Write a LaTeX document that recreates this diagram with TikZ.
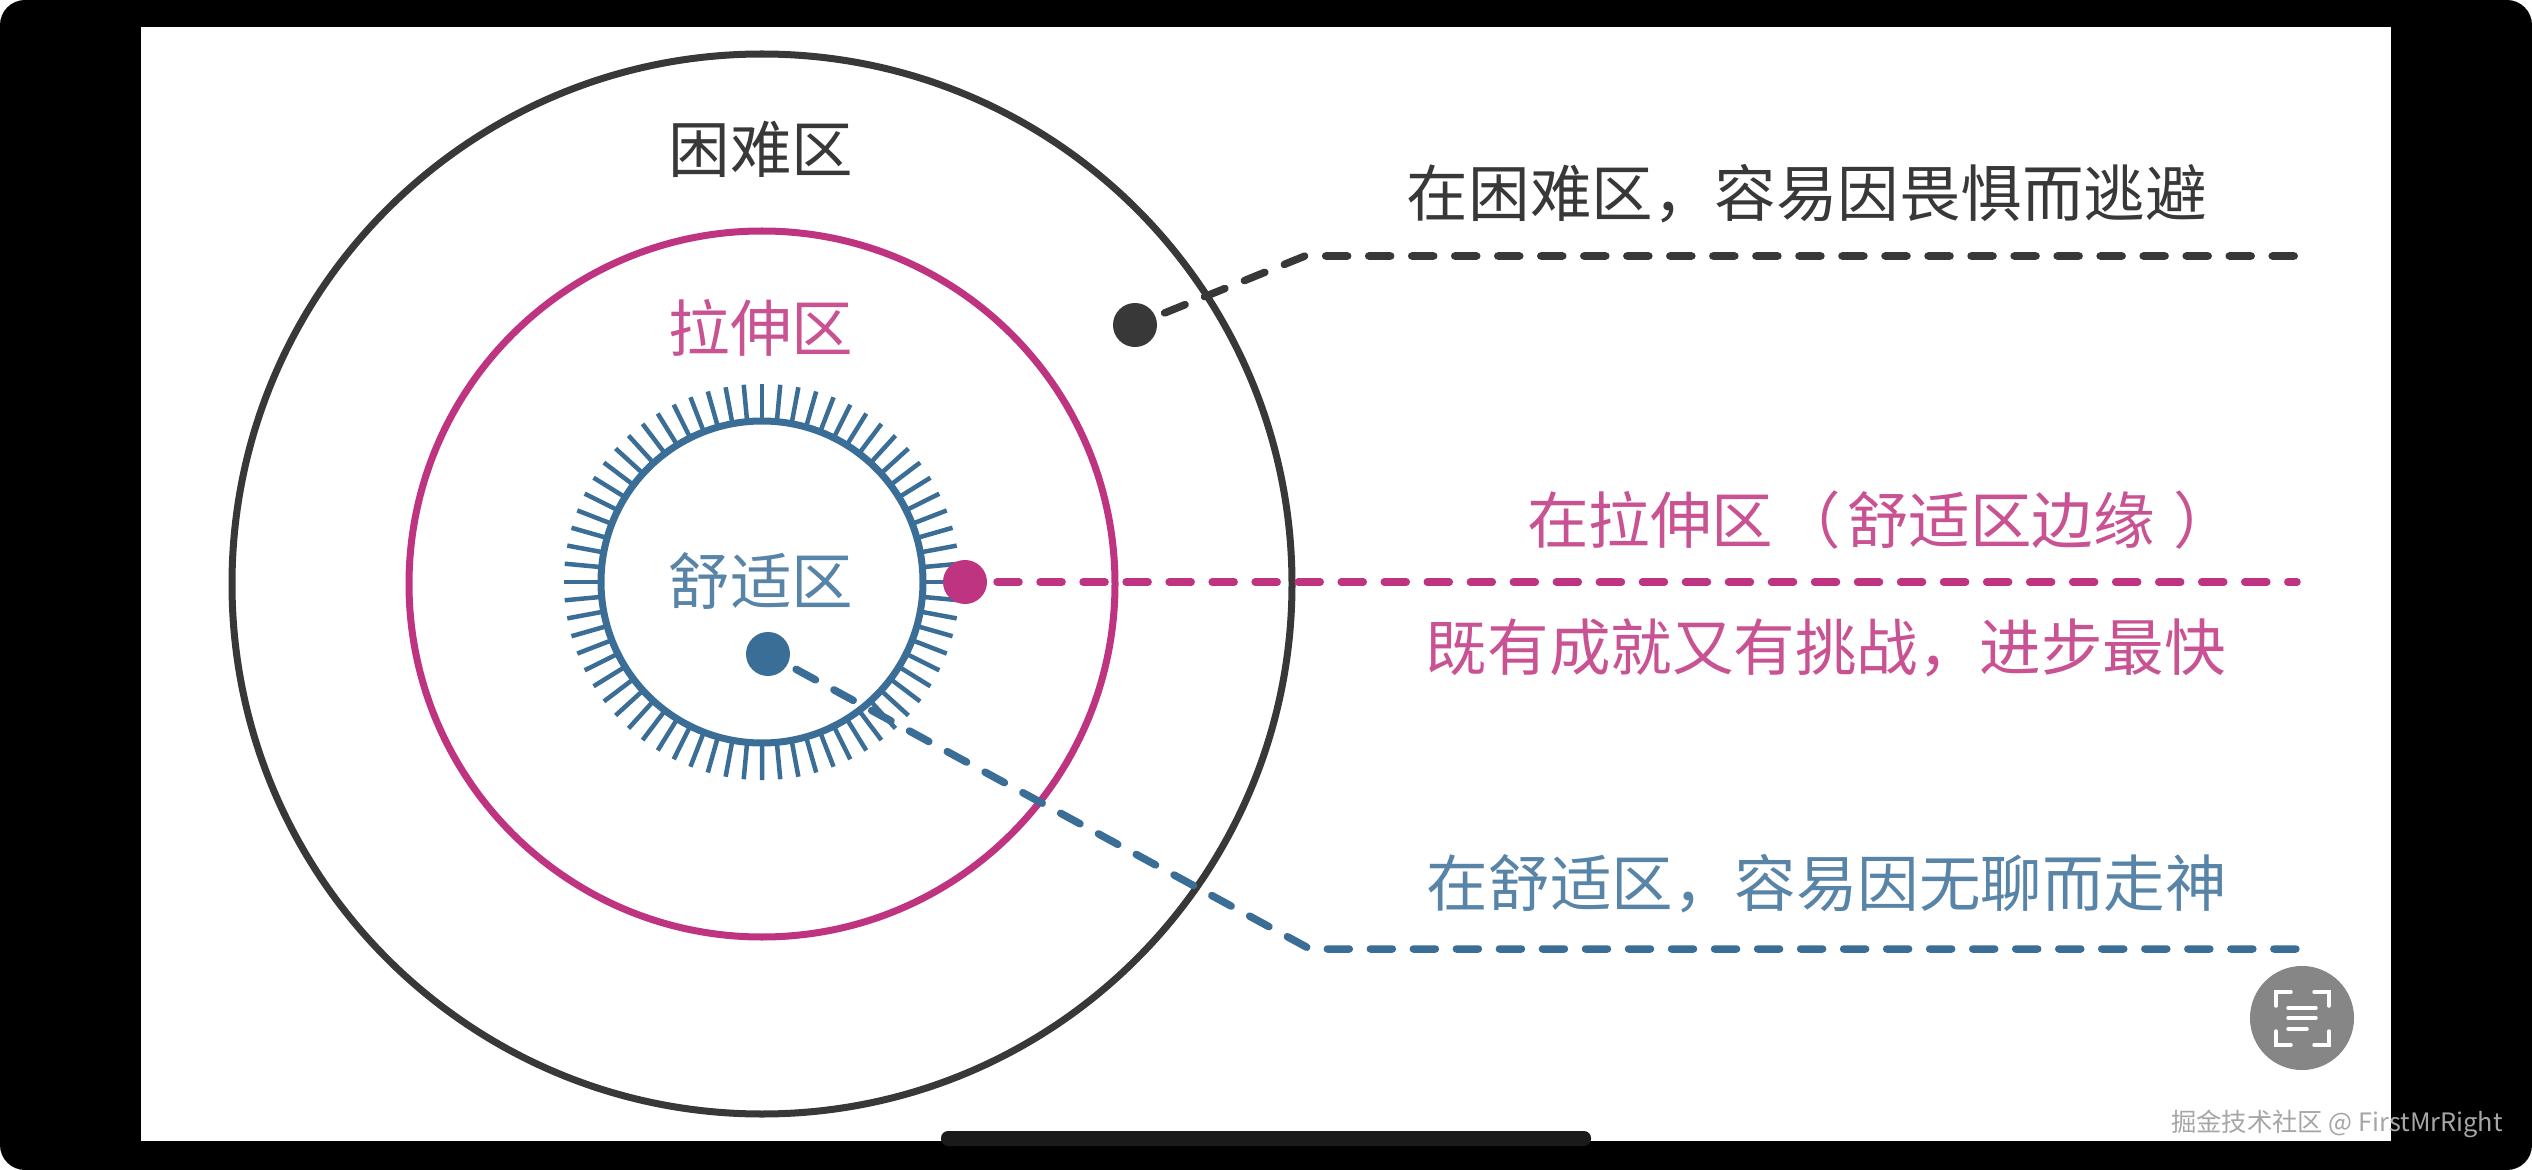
\documentclass[tikz,border=0pt]{standalone}
\usepackage{fontspec}
\setmainfont{Noto Sans CJK SC}
\definecolor{hardc}{HTML}{383838}
\definecolor{pinkc}{HTML}{BF3480}
\definecolor{bluec}{HTML}{3B6E97}
\definecolor{pillc}{HTML}{1A1A1A}
\definecolor{scanc}{HTML}{868686}
\begin{document}
\begin{tikzpicture}[x=0.01cm, y=-0.01cm]
\tikzset{
  zone/.style={line width=0.07cm},
  dot/.style={circle, minimum size=0.44cm, inner sep=0pt, outer sep=0.1cm},
  link/.style={line width=0.075cm, line cap=round, dash pattern=on 0.22cm off 0.21cm},
  zonetext/.style={font=\fontsize{17.5}{20}\selectfont, inner sep=0pt},
  scanline/.style={white, line width=0.035cm, line cap=round}
}
\useasboundingbox (0, 0) rectangle (2532, 1170);
\fill[white] (0, 0) rectangle (2532, 1170);
\fill[black, rounded corners=0.25cm] (0, 0) rectangle (2532, 1170);
\fill[white] (141, 27) rectangle (2391, 1141);
\draw[zone, hardc] (762, 584) circle (530);
\draw[zone, pinkc] (762, 584) circle (353);
\draw[zone, bluec] (762, 582) circle (161);
\foreach \a in {0, 1, ..., 67} {
  \draw[line width=0.045cm, bluec, shift={(762, 582)}] ({\a*5.2941}:1.61cm) -- ({\a*5.2941}:1.98cm);
}
\node[zonetext, hardc] (Hard) at (761, 149) {困难区};
\node[zonetext, pinkc!85] (Stretch) at (761, 328) {拉伸区};
\node[zonetext, bluec!85] (Comfort) at (761, 581) {舒适区};
\node[dot, fill=hardc] (HardDot) at (1135, 325) {};
\node[dot, fill=pinkc] (StretchDot) at (965, 582) {};
\node[dot, fill=bluec] (ComfortDot) at (768, 654) {};
\coordinate (HardBend) at (1305, 256);
\coordinate (HardEnd) at (2297, 256);
\coordinate (StretchEnd) at (2297, 582);
\coordinate (ComfortBend) at (1310, 949);
\coordinate (ComfortEnd) at (2303, 949);
\draw[link, hardc] (HardDot) -- (HardBend) -- (HardEnd);
\draw[link, pinkc] (StretchDot) -- (StretchEnd);
\draw[link, bluec] (ComfortDot) -- (ComfortBend) -- (ComfortEnd);
\node[zonetext, hardc] (HardNote) at (1807, 194) {在困难区，容易因畏惧而逃避};
\node[zonetext, pinkc!85] (StretchNote) at (1881, 520) {在拉伸区\hspace{0.1em}（\hspace{0.1em}舒适区边缘\hspace{0.3em}）};
\node[zonetext, pinkc!85] (StretchNoteB) at (1826, 648) {既有成就又有挑战，进步最快};
\node[zonetext, bluec!85] (ComfortNote) at (1827, 884) {在舒适区，容易因无聊而走神};
% screen overlay
\fill[pillc, rounded corners=0.07cm] (941, 1131) rectangle (1591, 1146);
\node[circle, fill=scanc, minimum size=1.04cm, inner sep=0pt] (Scan) at (2302, 1018) {};
\draw[scanline] (2276, 1006) -- (2276, 992) -- (2291, 992);
\draw[scanline] (2314, 992) -- (2329, 992) -- (2329, 1006);
\draw[scanline] (2276, 1031) -- (2276, 1045) -- (2291, 1045);
\draw[scanline] (2314, 1045) -- (2329, 1045) -- (2329, 1031);
\draw[scanline] (2288, 1008) -- (2316, 1008);
\draw[scanline] (2288, 1018) -- (2316, 1018);
\draw[scanline] (2288, 1029) -- (2307, 1029);
\node[font=\fontsize{7.2}{9}\selectfont, text=black!35, inner sep=0pt] (Mark) at (2337, 1124) {掘金技术社区 @ FirstMrRight};
\end{tikzpicture}
\end{document}
